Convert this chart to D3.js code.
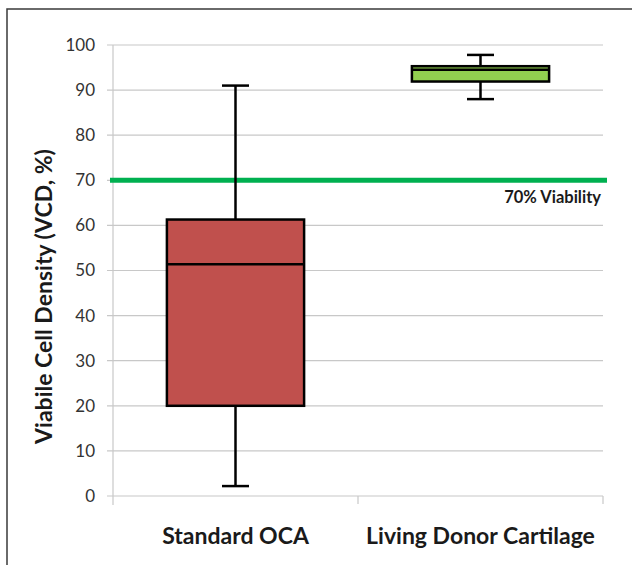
<!DOCTYPE html>
<html>
<head>
<meta charset="utf-8">
<script src="https://cdn.jsdelivr.net/npm/d3@7"></script>
<style>
  body { margin: 0; background: #fff; }
  svg { display: block; }
  svg text { font-family: Lato, 'Open Sans', sans-serif; }
</style>
</head>
<body>
<div id="chart"></div>
<script>
// data
var groups = ['Standard OCA', 'Living Donor Cartilage'];
var mins = [2.2, 88.0];
var q1s = [20.0, 91.9];
var medians = [51.4, 94.5];
var q3s = [61.3, 95.3];
var maxs = [91.0, 97.8];
var boxColors = ['#C0504D', '#92D050'];
var yTicks = [0, 10, 20, 30, 40, 50, 60, 70, 80, 90, 100];
var threshold = 70;
var thresholdLabel = '70% Viability';

var width = 632, height = 565;
var margin = { top: 45, right: 29, bottom: 69, left: 113 };
var innerW = width - margin.left - margin.right;
var innerH = height - margin.top - margin.bottom;

var svg = d3.select('#chart').append('svg')
    .attr('width', width)
    .attr('height', height);

// outer frame (only left/top visible in the original crop)
svg.append('rect')
    .attr('x', 7).attr('y', 9)
    .attr('width', width + 20).attr('height', height + 20)
    .attr('fill', 'none')
    .attr('stroke', '#3a3a3a')
    .attr('stroke-width', 1.5);

var g = svg.append('g')
    .attr('transform', 'translate(' + margin.left + ',' + margin.top + ')');

var x = d3.scaleBand().domain(groups).range([0, innerW]);
var y = d3.scaleLinear().domain([0, 100]).range([innerH, 0]);

// gridlines
g.append('g')
    .selectAll('line')
    .data(yTicks)
    .join('line')
    .attr('x1', -6).attr('x2', innerW)
    .attr('y1', d => y(d)).attr('y2', d => y(d))
    .attr('stroke', '#c8c8c8')
    .attr('stroke-width', 1.2);

// y axis
var yAxis = d3.axisLeft(y).tickValues(yTicks).tickSize(0).tickPadding(18);
var ya = g.append('g').call(yAxis).attr('font-family', null);
ya.select('.domain').attr('stroke', '#c8c8c8').attr('stroke-width', 1.2)
    .attr('d', 'M0,0V' + (innerH + 9));
ya.selectAll('text')
    .style('font-size', '17px')
    .style('fill', '#333');

// x axis
var xa = g.append('g')
    .attr('transform', 'translate(0,' + innerH + ')')
    .call(d3.axisBottom(x).tickSize(0).tickPadding(0))
    .attr('font-family', null);
xa.select('.domain').remove();
xa.selectAll('.tick line').remove();
xa.selectAll('.tick text')
    .attr('y', 48)
    .attr('dy', 0)
    .style('font-size', '23px')
    .style('font-weight', 'bold')
    .style('fill', '#1a1a1a');
// category separators
g.append('g')
    .selectAll('line')
    .data(groups)
    .join('line')
    .attr('x1', d => x(d) + x.bandwidth()).attr('x2', d => x(d) + x.bandwidth())
    .attr('y1', innerH).attr('y2', innerH + 8)
    .attr('stroke', '#c8c8c8')
    .attr('stroke-width', 1.2);

// threshold line
g.append('line')
    .attr('x1', -3).attr('x2', innerW + 4)
    .attr('y1', y(threshold)).attr('y2', y(threshold))
    .attr('stroke', '#00B050')
    .attr('stroke-width', 5);
g.append('text')
    .attr('x', innerW - 2)
    .attr('y', y(threshold) + 23)
    .attr('text-anchor', 'end')
    .style('font-size', '16.5px')
    .style('font-weight', 'bold')
    .style('fill', '#1a1a1a')
    .text(thresholdLabel);

// boxes
var boxW = x.bandwidth() * 0.56;
var capW = 27;
var data = groups.map((d, i) => ({
    name: d, min: mins[i], q1: q1s[i], med: medians[i], q3: q3s[i], max: maxs[i], color: boxColors[i]
}));

var box = g.append('g').selectAll('g')
    .data(data)
    .join('g')
    .attr('transform', d => 'translate(' + (x(d.name) + x.bandwidth() / 2) + ',0)');

box.append('line')
    .attr('x1', 0).attr('x2', 0)
    .attr('y1', d => y(d.max)).attr('y2', d => y(d.min))
    .attr('stroke', '#000').attr('stroke-width', 2.5);
box.append('line')
    .attr('x1', -capW / 2).attr('x2', capW / 2)
    .attr('y1', d => y(d.max)).attr('y2', d => y(d.max))
    .attr('stroke', '#000').attr('stroke-width', 2.5);
box.append('line')
    .attr('x1', -capW / 2).attr('x2', capW / 2)
    .attr('y1', d => y(d.min)).attr('y2', d => y(d.min))
    .attr('stroke', '#000').attr('stroke-width', 2.5);
box.append('rect')
    .attr('x', -boxW / 2)
    .attr('width', boxW)
    .attr('y', d => y(d.q3))
    .attr('height', d => y(d.q1) - y(d.q3))
    .attr('fill', d => d.color)
    .attr('stroke', '#000').attr('stroke-width', 2.5);
box.append('line')
    .attr('x1', -boxW / 2).attr('x2', boxW / 2)
    .attr('y1', d => y(d.med)).attr('y2', d => y(d.med))
    .attr('stroke', '#000').attr('stroke-width', 2.5);

// y axis title
svg.append('text')
    .attr('transform', 'translate(52,' + (margin.top + innerH / 2 + 26) + ') rotate(-90)')
    .attr('text-anchor', 'middle')
    .style('font-size', '23px')
    .style('font-weight', 'bold')
    .style('fill', '#1a1a1a')
    .text('Viabile Cell Density (VCD, %)');
</script>
</body>
</html>
